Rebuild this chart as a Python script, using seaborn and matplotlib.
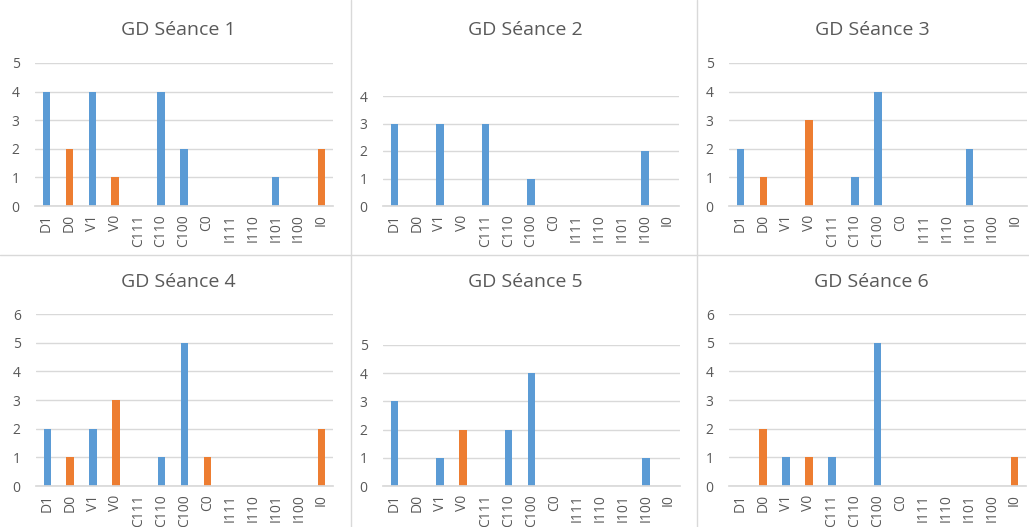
import numpy as np
import pandas as pd
import matplotlib
matplotlib.use("Agg")
import matplotlib.pyplot as plt
import seaborn as sns

# categories (same order in all six charts)
categories = ["D1", "D0", "V1", "V0", "C111", "C110", "C100", "C0",
              "I111", "I110", "I101", "I100", "I0"]

# counts per session
seance1 = [4, 2, 4, 1, 0, 4, 2, 0, 0, 0, 1, 0, 2]
seance2 = [3, 0, 3, 0, 3, 0, 1, 0, 0, 0, 0, 2, 0]
seance3 = [2, 1, 0, 3, 0, 1, 4, 0, 0, 0, 2, 0, 0]
seance4 = [2, 1, 2, 3, 0, 1, 5, 1, 0, 0, 0, 0, 2]
seance5 = [3, 0, 1, 2, 0, 2, 4, 0, 0, 0, 0, 1, 0]
seance6 = [0, 2, 1, 1, 1, 0, 5, 0, 0, 0, 0, 0, 1]

titles = ["GD Séance 1", "GD Séance 2", "GD Séance 3",
          "GD Séance 4", "GD Séance 5", "GD Séance 6"]
y_max = [5, 4, 5, 6, 5, 6]

BLUE = "#5B9BD5"
ORANGE = "#ED7D31"
# the "...0" categories are drawn in orange
orange_cats = ["D0", "V0", "C0", "I0"]
palette = {c: (ORANGE if c in orange_cats else BLUE) for c in categories}

W, H = 1029, 527

# plot areas in pixels: (left, right, top, bottom)
boxes = [
    (35, 333, 63, 206), (383, 679, 96, 206), (729, 1027, 63, 206),
    (36, 333, 314, 486), (383, 680, 345, 486), (729, 1026, 314, 486),
]
title_y = [30, 30, 30, 282, 282, 282]

sns.set_theme(style="white")
plt.rcParams["font.family"] = ["Open Sans", "DejaVu Sans"]

fig = plt.figure(figsize=(W / 100, H / 100), dpi=100)

for i, vals in enumerate([seance1, seance2, seance3, seance4, seance5, seance6]):
    l, r, t, b = boxes[i]
    ax = fig.add_axes([l / W, 1 - b / H, (r - l) / W, (b - t) / H])
    df = pd.DataFrame({"cat": categories, "n": vals})
    sns.barplot(data=df, x="cat", y="n", hue="cat", order=categories,
                palette=palette, legend=False, width=0.33, ax=ax,
                saturation=1, linewidth=0)
    ax.set_ylim(0, y_max[i])
    ax.set_yticks(range(0, y_max[i] + 1))
    ax.set_xlim(-0.5, len(categories) - 0.5)
    ax.grid(axis="y", color="#d9d9d9", linewidth=1)
    ax.set_axisbelow(True)
    for s in ["top", "right", "left"]:
        ax.spines[s].set_visible(False)
    ax.spines["bottom"].set_color("#d9d9d9")
    ax.set_xlabel("")
    ax.set_ylabel("")
    ax.tick_params(axis="x", rotation=90, labelsize=10, colors="#595959",
                   length=0, pad=6)
    ax.tick_params(axis="y", labelsize=10, colors="#595959", length=0, pad=11)
    fig.text((l + r) / 2 / W - 6 / W, 1 - title_y[i] / H, titles[i],
             ha="center", va="center", fontsize=14, color="#595959")

# light borders between the charts
sep = "#d9d9d9"
fig.add_artist(plt.Line2D([351 / W, 351 / W], [0, 1], color=sep, lw=1))
fig.add_artist(plt.Line2D([697 / W, 697 / W], [0, 1], color=sep, lw=1))
fig.add_artist(plt.Line2D([0, 1], [1 - 255 / H, 1 - 255 / H], color=sep, lw=1))

fig.savefig("out.png", dpi=100, facecolor="white")
